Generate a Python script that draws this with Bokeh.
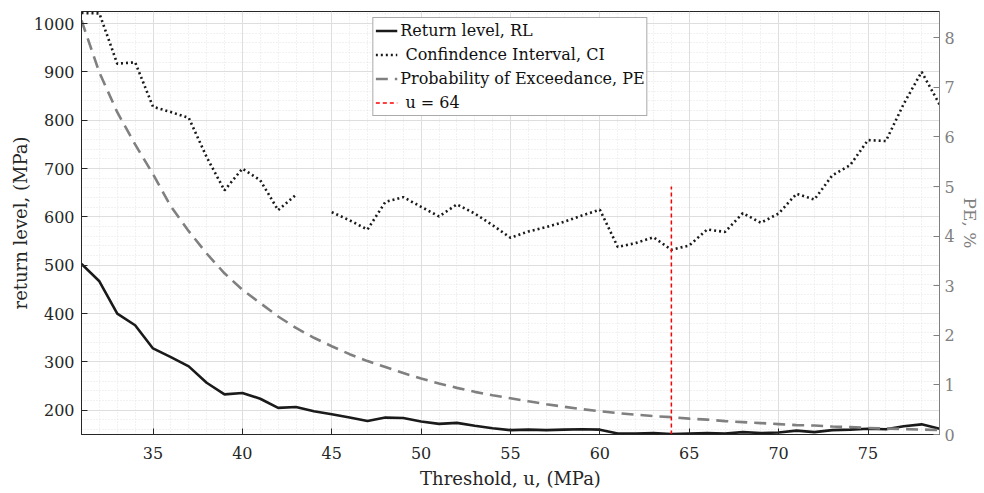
from bokeh.plotting import figure
from bokeh.models import Range1d, LinearAxis, FixedTicker, Legend, LegendItem
from bokeh.embed import file_html
from bokeh.resources import INLINE

# ---------------- data ----------------
threshold = list(range(31, 80))
return_level = [503, 467, 400, 376, 328, 310, 291, 257, 233, 236,
                224, 205, 207, 198, 192, 185, 178, 185, 184, 177,
                172, 174, 168, 163, 159, 160, 159, 160, 161, 160,
                152, 152, 153, 151, 152, 153, 152, 155, 153, 154,
                158, 155, 159, 160, 162, 161, 167, 171, 162]
conf_interval = [1022, 1021, 917, 920, 828, 817, 805, 724, 655, 700,
                 676, 614, 646, float("nan"), 610, 593, 574, 631, 641, 621,
                 601, 626, 607, 583, 557, 570, 579, 590, 603, 615,
                 538, 546, 558, 532, 541, 574, 569, 608, 588, 607,
                 648, 636, 686, 707, 759, 757, 834, 900, 833]
prob_exceed = [8.35, 7.3, 6.5, 5.85, 5.25, 4.6, 4.1, 3.65, 3.25, 2.92,
               2.65, 2.38, 2.15, 1.95, 1.78, 1.62, 1.48, 1.36, 1.24, 1.13,
               1.03, 0.94, 0.86, 0.79, 0.73, 0.67, 0.61, 0.56, 0.51, 0.47,
               0.43, 0.40, 0.37, 0.35, 0.32, 0.30, 0.27, 0.25, 0.23, 0.21,
               0.19, 0.18, 0.16, 0.15, 0.13, 0.12, 0.11, 0.10, 0.09]
u_sel = [64, 64]
u_line_pe = [0, 5]

x_ticks = [35, 40, 45, 50, 55, 60, 65, 70, 75]
x_minor = list(range(31, 80))
y_ticks = [200, 300, 400, 500, 600, 700, 800, 900, 1000]
y_minor = list(range(160, 1025, 20))
pe_ticks = [0, 1, 2, 3, 4, 5, 6, 7, 8]

labels = ["Return level, RL", " Confindence Interval, CI",
          "Probability of Exceedance, PE", " u = 64"]

FONT = "DejaVu Serif"
DARK = "#262626"
GRAY = "#808080"

p = figure(width=984, height=493, output_backend="svg", toolbar_location=None,
           x_range=Range1d(31, 79), y_range=Range1d(150, 1025),
           min_border_left=81, min_border_right=45, min_border_top=11,
           min_border_bottom=59, background_fill_color="white",
           border_fill_color="white")
p.outline_line_color = DARK
p.outline_line_width = 1
p.extra_y_ranges = {"pe": Range1d(0, 8.53)}

# axes
xa = p.xaxis[0]
xa.ticker = FixedTicker(ticks=x_ticks, minor_ticks=x_minor)
ya = p.yaxis[0]
ya.ticker = FixedTicker(ticks=y_ticks, minor_ticks=y_minor)
for ax in (xa, ya):
    ax.major_tick_in = 6
    ax.major_tick_out = 0
    ax.minor_tick_in = 0
    ax.minor_tick_out = 0
    ax.axis_line_color = DARK
    ax.major_tick_line_color = DARK
    ax.major_label_text_font = FONT
    ax.major_label_text_font_size = "16px"
    ax.major_label_text_color = DARK
    ax.axis_label_text_font = FONT
    ax.axis_label_text_font_size = "18px"
    ax.axis_label_text_font_style = "normal"
    ax.axis_label_text_color = DARK
xa.axis_label = "Threshold, u, (MPa)"
xa.major_label_standoff = 12
xa.axis_label_standoff = 6
ya.axis_label = "return level, (MPa)"
ya.major_label_standoff = 7
ya.axis_label_standoff = 0

ra = LinearAxis(y_range_name="pe", ticker=FixedTicker(ticks=pe_ticks),
                axis_label="PE, %")
ra.major_tick_in = 6
ra.major_tick_out = 0
ra.minor_tick_in = 0
ra.minor_tick_out = 0
ra.axis_line_color = GRAY
ra.major_tick_line_color = GRAY
ra.major_label_text_font = FONT
ra.major_label_text_font_size = "16px"
ra.major_label_text_color = GRAY
ra.major_label_standoff = 5
ra.axis_label_text_font = FONT
ra.axis_label_text_font_size = "17px"
ra.axis_label_text_font_style = "normal"
ra.axis_label_text_color = GRAY
ra.axis_label_standoff = 2
p.add_layout(ra, "right")

# grid
for g in (p.xgrid[0], p.ygrid[0]):
    g.grid_line_color = "#dedede"
    g.grid_line_width = 1
    g.minor_grid_line_color = "#e4e4e4"
    g.minor_grid_line_dash = "1 2"
    g.minor_grid_line_width = 1

# glyphs
r_rl = p.line(threshold, return_level, line_color="#1a1a1a", line_width=2.6)
r_ci = p.line(threshold, conf_interval, line_color="#1a1a1a", line_width=2.6,
              line_dash="2 3")
r_pe = p.line(threshold, prob_exceed, line_color=GRAY, line_width=2.6,
              line_dash="12 7", y_range_name="pe")
r_u = p.line(u_sel, u_line_pe, line_color="#ff0000", line_width=1.5,
             line_dash="4 3", y_range_name="pe")

legend = Legend(items=[LegendItem(label=labels[0], renderers=[r_rl]),
                       LegendItem(label=labels[1], renderers=[r_ci]),
                       LegendItem(label=labels[2], renderers=[r_pe]),
                       LegendItem(label=labels[3], renderers=[r_u])],
                location="top_center", margin=6, padding=2, spacing=3,
                label_height=21, glyph_height=21, glyph_width=22,
                label_standoff=3, label_text_font=FONT,
                label_text_font_size="16px", label_text_color="#111111",
                border_line_color="#555555", border_line_width=1,
                background_fill_color="white", background_fill_alpha=1)
p.add_layout(legend, "center")

open("out.html", "w").write(file_html(p, INLINE))
